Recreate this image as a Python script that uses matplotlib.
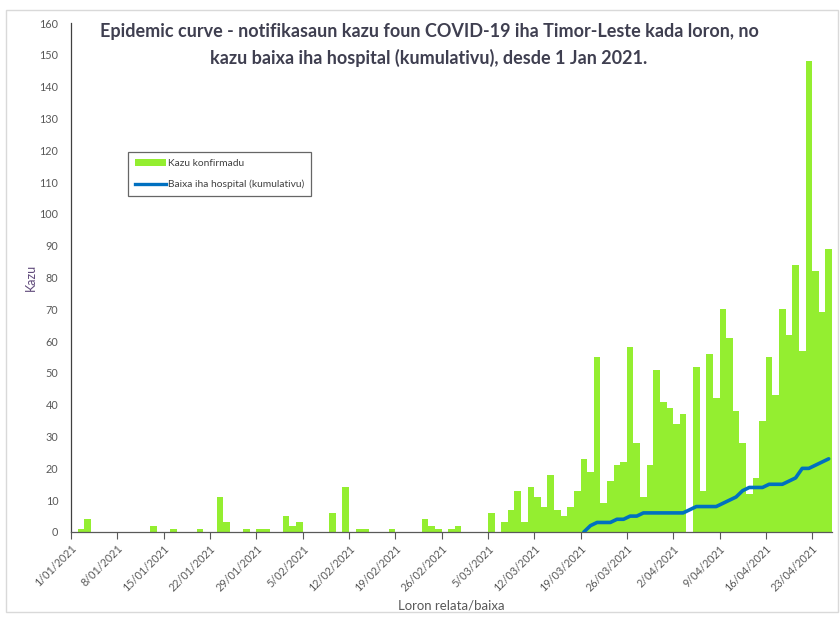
import matplotlib
matplotlib.use('Agg')
import matplotlib.pyplot as plt
import matplotlib.dates as mdates
from matplotlib.patches import Rectangle, Patch
from matplotlib.lines import Line2D
import pandas as pd

# ---------------- data ----------------
start_date = '2021-01-01'
kazu_konfirmadu = [0, 1, 4, 0, 0, 0, 0, 0, 0, 0,
                   0, 0, 2, 0, 0, 1, 0, 0, 0, 1,
                   0, 0, 11, 3, 0, 0, 1, 0, 1, 1,
                   0, 0, 5, 2, 3, 0, 0, 0, 0, 6,
                   0, 14, 0, 1, 1, 0, 0, 0, 1, 0,
                   0, 0, 0, 4, 2, 1, 0, 1, 2, 0,
                   0, 0, 0, 6, 0, 3, 7, 13, 3, 14,
                   11, 8, 18, 7, 5, 8, 13, 23, 19, 55,
                   9, 16, 21, 22, 58, 28, 11, 21, 51, 41,
                   39, 34, 37, 0, 52, 13, 56, 42, 70, 61,
                   38, 28, 12, 17, 35, 55, 43, 70, 62, 84,
                   57, 148, 82, 69, 89]
hospital_start = '2021-03-19'
baixa_hospital = [0, 2, 3, 3, 3, 4, 4, 5, 5, 6,
                  6, 6, 6, 6, 6, 6, 7, 8, 8, 8,
                  8, 9, 10, 11, 13, 14, 14, 14, 15, 15,
                  15, 16, 17, 20, 20, 21, 22, 23]
tick_start = '2021-01-01'
tick_end = '2021-04-23'
title_lines = ["Epidemic curve - notifikasaun kazu foun COVID-19 iha Timor-Leste kada loron, no",
               "kazu baixa iha hospital (kumulativu), desde 1 Jan 2021."]
y_label = "Kazu"
x_label = "Loron relata/baixa"
legend_labels = ["Kazu konfirmadu", "Baixa iha hospital (kumulativu)"]

# ---------------- plot ----------------
plt.rcParams['font.family'] = ['Lato', 'DejaVu Sans']
GREEN = '#94EE30'
BLUE = '#0070C0'
TXT = '#3F3F50'

dates = pd.date_range(start_date, periods=len(kazu_konfirmadu), freq='D')
hdates = pd.date_range(hospital_start, periods=len(baixa_hospital), freq='D')

fig = plt.figure(figsize=(8.4, 6.17), dpi=100)
ax = fig.add_axes([71/840, 1-532/617, (832-71)/840, (532-23)/617])

xnum = mdates.date2num(dates)
ax.bar(xnum, kazu_konfirmadu, width=1.0, align='edge', color=GREEN,
       edgecolor='none', linewidth=0, zorder=2)
hx = mdates.date2num(hdates) + 0.5
ax.plot(hx, baixa_hospital, color=BLUE, linewidth=2.6, solid_capstyle='round',
        solid_joinstyle='round', zorder=3)

ax.set_xlim(xnum[0], xnum[-1] + 1)
ax.set_ylim(0, 160)
ax.set_yticks(range(0, 161, 10))
ticks = pd.date_range(tick_start, tick_end, freq='7D')
ax.set_xticks(mdates.date2num(ticks))
ax.set_xticklabels([f"{t.day}/{t.month:02d}/{t.year}" for t in ticks],
                   rotation=45, ha='right', rotation_mode='anchor',
                   fontsize=7.8, color='#595959')
ax.tick_params(axis='x', length=5, width=0.8, color='#595959', pad=3, direction='out')
ax.tick_params(axis='y', length=0, pad=9, labelsize=7.8, labelcolor='#595959')

for s in ['top', 'right']:
    ax.spines[s].set_visible(False)
ax.spines['left'].set_color('#404040')
ax.spines['bottom'].set_color('#595959')
ax.spines['left'].set_linewidth(0.9)
ax.spines['bottom'].set_linewidth(0.9)

ax.set_ylabel(y_label, fontsize=9, color='#604a7b', labelpad=2)
ax.set_xlabel(x_label, fontsize=9.5, color='#595959', labelpad=4)

fig.text(429/840, 1-32/617, title_lines[0], ha='center', va='center',
         fontsize=13, fontweight='bold', color=TXT)
fig.text(429/840, 1-58/617, title_lines[1], ha='center', va='center',
         fontsize=13, fontweight='bold', color=TXT)

handles = [Patch(facecolor=GREEN, edgecolor='none'),
           Line2D([0], [0], color=BLUE, linewidth=2.4)]
leg = ax.legend(handles, legend_labels, loc='upper left',
                bbox_to_anchor=((128-71)/761, (532-152)/509),
                fontsize=7.4, frameon=True, fancybox=False, borderpad=0.7,
                handlelength=3.0, handletextpad=0.15, labelspacing=1.1,
                borderaxespad=0)
leg.get_frame().set_edgecolor('#404040')
leg.get_frame().set_linewidth(0.9)
for t in leg.get_texts():
    t.set_color('#404040')

fig.patches.append(Rectangle((6/840, 1-612/617), (838-6)/840, (612-10)/617,
                             transform=fig.transFigure, fill=False,
                             edgecolor='#D9D9D9', linewidth=1.0))

fig.savefig('out.png', dpi=100)
